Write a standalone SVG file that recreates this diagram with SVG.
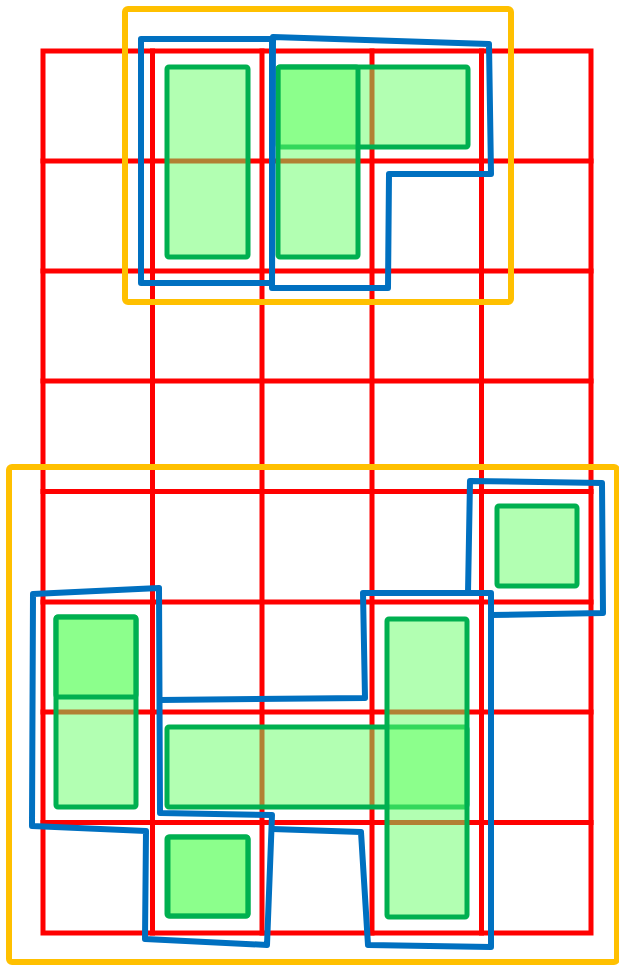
<svg xmlns="http://www.w3.org/2000/svg" width="619" height="966" viewBox="0 0 619 966">
<style>
.grid{fill:none;stroke:#FF0000;stroke-width:5;stroke-linecap:square}
.cell{fill:#66FF66;fill-opacity:0.5;stroke:#00B050;stroke-width:5;stroke-linejoin:round}
.region{fill:none;stroke:#0070C0;stroke-width:6;stroke-linejoin:round}
.frame{fill:none;stroke:#FFC000;stroke-width:6;stroke-linejoin:round}
</style>
<rect width="619" height="966" fill="#FFFFFF"/>
<g id="grid">
<rect class="grid" x="43" y="51" width="548" height="882"/>
<path class="grid" d="M152.5,51V933M262,51V933M372,51V933M481.5,51V933M43,161H591M43,271H591M43,381H591M43,491.5H591M43,602H591M43,712H591M43,822.5H591"/>
</g>
<g id="cells">
<rect id="c1" class="cell" x="167" y="67" width="81" height="190" rx="2"/>
<rect id="c2" class="cell" x="278" y="67" width="190" height="80" rx="2"/>
<rect id="c3" class="cell" x="278" y="67" width="80" height="190" rx="2"/>
<rect id="c4" class="cell" x="497" y="506" width="80" height="80" rx="2"/>
<rect id="c5" class="cell" x="56" y="617" width="80" height="190" rx="2"/>
<rect id="c6" class="cell" x="56" y="617" width="80" height="80" rx="2"/>
<rect id="c7" class="cell" x="167" y="727" width="300" height="80" rx="2"/>
<rect id="c8" class="cell" x="387" y="619" width="80" height="298" rx="2"/>
<rect id="c9" class="cell" x="167" y="837" width="81" height="79" rx="2"/>
<rect id="c10" class="cell" x="168" y="837" width="80" height="79" rx="2"/>
</g>
<g id="regions">
<path id="r1" class="region" d="M141,39L272,39L272,283L141,283Z"/>
<path id="r2" class="region" d="M273,37L489,44L491,174L389,174L388,288L272,288Z"/>
<path id="r3" class="region" d="M468,593L470,481L602,483L603,613L491,615"/>
<path id="r4" class="region" d="M33,594L159,588L160,813L272,815L267,945L145,939L146,831L32,826Z"/>
<path id="r5" class="region" d="M160,700L365,698L363,593L491,593L491,947L368,945L361,832L272,829"/>
</g>
<g id="frames">
<rect id="f1" class="frame" x="125" y="9" width="386" height="293" rx="3"/>
<rect id="f2" class="frame" x="9" y="467" width="608" height="495" rx="3"/>
</g>
</svg>
